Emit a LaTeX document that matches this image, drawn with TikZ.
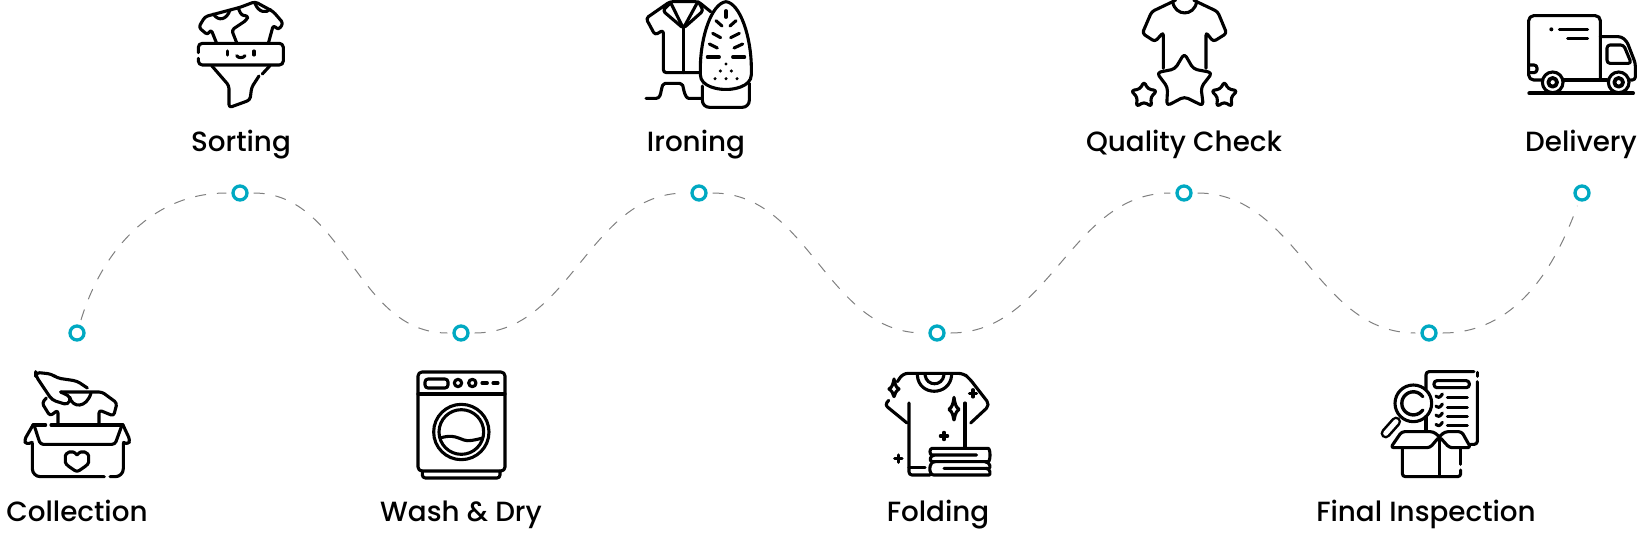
\documentclass[tikz,border=0pt]{standalone}
\usepackage{fontspec}
\setmainfont{Poppins Medium}
\definecolor{dotteal}{HTML}{00A9C2}
\definecolor{routegray}{HTML}{808080}
\tikzset{
  stepdot/.style={circle,draw=dotteal,fill=white,line width=3.3pt,minimum size=14pt,inner sep=0pt},
  steptext/.style={anchor=base,inner sep=0pt,font=\fontsize{27.8}{28}\selectfont},
  routeline/.style={draw=routegray,line width=1pt,dash pattern=on 11pt off 11pt,shorten >=5pt,shorten <=5pt},
  iconline/.style={line width=3.1pt,line cap=round,line join=round,rounded corners=3pt},
}
\begin{document}
\begin{tikzpicture}[x=1pt,y=-1pt]
\useasboundingbox (0,0) rectangle (1646,555);

% Dots on the route
\foreach \tag/\x/\y in {a/77/333,b/240/193,c/461/333,d/699/193,e/937/333,f/1184/193,g/1429/333,h/1582/193}
{
    \node[stepdot] (dot\tag) at (\x,\y) {};
}

% Route
\draw[routeline] (dota) to[out=73,in=180] (dotb);
\draw[routeline] (dotb) to[out=0,in=180] (dotc);
\draw[routeline] (dotc) to[out=0,in=180] (dotd);
\draw[routeline] (dotd) to[out=0,in=180] (dote);
\draw[routeline] (dote) to[out=0,in=180] (dotf);
\draw[routeline] (dotf) to[out=0,in=180] (dotg);
\draw[routeline] (dotg) to[out=0,in=250] (doth);

% Labels
\foreach \tag/\name/\x/\y in {a/Collection/77/521,b/Sorting/241/151,c/Wash \& Dry/461/521,d/Ironing/696/151,e/Folding/938/521,f/Quality Check/1184/151,g/Final Inspection/1426/521,h/Delivery/1581/151}
{
    \node[steptext] (text\tag) at (\x,\y) {\name};
}

% Collection
\begin{scope}[shift={(15,365)},scale=1/3,iconline]
\draw[rounded corners=8pt] (52,235) -- (52,335) -- (268,335);
\draw[rounded corners=8pt] (285,335) -- (325,335) -- (325,235);
\draw (54,180) -- (92,180);
\draw (108,180) -- (324,180);
\draw (58,183) -- (76,238) -- (300,238) -- (320,183);
\draw (54,180) -- (28,225) -- (33,238) -- (52,232);
\draw (324,180) -- (345,225) -- (340,238) -- (325,232);
\draw (186,270) .. controls (171,250) and (151,265) .. (151,282) .. controls (151,300) and (171,310) .. (186,322) .. controls (201,310) and (221,300) .. (221,282) .. controls (221,265) and (201,250) .. (186,270);
\draw (129,178) -- (129,135) -- (105,153) -- (81,114) -- (94,99);
\draw (252,178) -- (252,135) -- (296,153) -- (306,114) -- (261,81) -- (137,81);
\draw (164,96) .. controls (172,130) and (215,130) .. (228,84);
\draw[rounded corners=4pt] (217,69) -- (186,48) -- (126,39) -- (110,27) -- (62,22) -- (62,32) -- (111,105) -- (159,120) -- (168,96) -- (137,81);
\end{scope}

% Sorting
\begin{scope}[shift={(185,0)},scale=1/3,iconline]
\draw[rounded corners=4pt] (40,158) -- (40,130) -- (295,130) -- (295,195) -- (40,195) -- (40,175);
\draw (127,153) -- (127,165);
\draw (207,153) -- (207,165);
\draw (155,167) .. controls (160,175) and (175,175) .. (180,167);
\draw (80,197) -- (132,257) -- (132,323) -- (195,300) -- (200,262) -- (222,228);
\draw (232,222) -- (255,197);
\draw (95,130) -- (78,88) -- (68,105) -- (41,82) -- (60,50) -- (165,22) -- (210,5) -- (265,35) -- (295,70) -- (280,90) -- (265,75) -- (250,130);
\draw (85,42) .. controls (100,65) and (125,60) .. (135,30);
\draw (210,10) .. controls (220,38) and (245,40) .. (255,28);
\draw (160,25) -- (170,47) -- (190,47) -- (185,60) -- (140,90) -- (155,128);
\end{scope}

% Wash & Dry
\begin{scope}[shift={(400,365)},scale=1/3,iconline]
\draw[rounded corners=4pt] (54,21) rectangle (315,318);
\draw (54,87) -- (315,87);
\draw (67,318) -- (67,339) -- (300,339) -- (300,318);
\draw (75,42) rectangle (144,69);
\draw (174,54) circle[radius=11];
\draw (217,54) circle[radius=11];
\draw (246,54) -- (262,54);
\draw (279,54) -- (294,54);
\draw (184,201) circle[radius=83];
\draw (184,201) circle[radius=67];
\draw (120,219) .. controls (150,210) and (165,215) .. (184,222) .. controls (205,230) and (225,225) .. (248,219);
\end{scope}

% Ironing
\begin{scope}[shift={(640,0)},scale=1/3,iconline]
\draw (258,5) .. controls (215,10) and (181,110) .. (181,215) .. controls (181,262) and (240,268) .. (258,268) .. controls (275,268) and (334,262) .. (334,215) .. controls (334,110) and (300,10) .. (258,5);
\draw[rounded corners=7pt] (187,258) -- (187,322) -- (328,322) -- (328,250);
\draw (258,32) -- (258,52);
\draw (228,62) -- (246,78);
\draw (288,62) -- (270,78);
\draw (218,100) -- (242,113);
\draw (298,100) -- (272,113);
\draw (208,132) -- (232,144);
\draw (308,132) -- (282,144);
\draw (202,171) -- (238,171);
\draw (278,171) -- (314,171);
\foreach \px/\py in {258/192,241/213,274/213,225/236,258/236,291/236}
{
    \fill (\px,\py) circle[radius=5];
}
\draw (180,218) -- (70,218) -- (70,90) -- (45,105) -- (18,55) -- (90,5) -- (175,5) -- (212,35);
\draw (92,8) -- (68,32) -- (130,85) -- (190,32) -- (175,5);
\draw (92,8) -- (130,85) -- (172,8);
\draw (130,85) -- (130,218);
\draw (18,295) -- (40,295) .. controls (60,295) and (62,280) .. (65,265) .. controls (68,255) and (75,250) .. (85,250) -- (110,250) .. controls (120,250) and (128,255) .. (130,265) .. controls (135,285) and (140,295) .. (155,295) -- (185,295);
\end{scope}

% Folding
\begin{scope}[shift={(880,365)},scale=1/3,iconline]
\draw[rounded corners=5pt] (52,50) -- (69,25) -- (250,25) -- (268,40) -- (330,120) -- (272,174);
\draw (26,106) -- (15,120) -- (81,174);
\draw (87,114) -- (87,330) -- (150,330);
\draw (87,308) -- (135,308);
\draw (255,114) -- (255,245);
\draw (112,30) .. controls (115,95) and (210,95) .. (215,30);
\draw (135,30) .. controls (140,65) and (187,65) .. (192,30);
\draw (222,97) .. controls (225,120) and (230,128) .. (242,133) .. controls (230,138) and (225,148) .. (222,170) .. controls (219,148) and (214,138) .. (202,133) .. controls (214,128) and (219,120) .. (222,97);
\draw (42,42) .. controls (45,60) and (50,68) .. (62,72) .. controls (50,76) and (45,84) .. (42,100) .. controls (39,84) and (34,76) .. (22,72) .. controls (34,68) and (39,60) .. (42,42);
\foreach \px/\py in {279/85,192/213,55/281}
{
    \draw (\px-11,\py) -- (\px+11,\py);
    \draw (\px,\py-11) -- (\px,\py+11);
}
\draw (290,270) -- (165,270) .. controls (148,270) and (148,250) .. (165,250) -- (315,250) .. controls (332,250) and (332,290) .. (315,290) -- (165,290) .. controls (148,290) and (148,270) .. (165,270);
\draw (315,290) .. controls (332,292) and (332,310) .. (318,310) -- (192,310);
\draw (165,290) .. controls (145,290) and (145,330) .. (170,330) -- (318,330) .. controls (332,330) and (332,310) .. (318,310);
\end{scope}

% Quality Check
\begin{scope}[shift={(1125,0)},scale=1/3,iconline]
\draw (115,205) -- (115,97) -- (90,125) -- (52,100) -- (80,35) -- (143,5);
\draw (243,205) -- (243,97) -- (265,125) -- (305,100) -- (278,35) -- (215,5);
\draw (143,5) .. controls (150,50) and (208,50) .. (215,5);
\draw (143,5) -- (152,0);
\draw (215,5) -- (206,0);
\draw[rounded corners=4pt] (178,160) -- (205,207) -- (262,218) -- (228,262) -- (235,318) -- (178,290) -- (125,318) -- (128,262) -- (95,218) -- (150,207) -- cycle;
\foreach \dx in {0,241}
{
    \draw[xshift=\dx*1pt,rounded corners=3pt] (57,245) -- (69,267) -- (96,272) -- (77,292) -- (80,320) -- (57,306) -- (34,320) -- (37,292) -- (18,272) -- (45,267) -- cycle;
}
\end{scope}

% Final Inspection
\begin{scope}[shift={(1370,365)},scale=1/3,iconline]
\draw (168,72) -- (168,20) -- (312,20);
\draw (322,22) -- (322,34);
\draw (322,50) -- (322,238) -- (302,238);
\draw (168,155) -- (168,195);
\draw (192,47) rectangle (298,68);
\foreach \py in {95,125,152,180}
{
    \draw (198,\py-2) -- (207,\py+6) -- (217,\py-8);
    \draw (232,\py+2) -- (292,\py+2);
}
\draw (130,115) circle[radius=55];
\draw plot[smooth,domain=40:320,samples=30] ({130+34*cos(\x)},{115+34*sin(\x)});
\draw[double=white,double distance=5pt,line width=2.6pt] (78,170) -- (47,205);
\draw (208,215) -- (190,200) -- (95,200) -- (62,248) -- (180,248) -- (208,215) -- (238,248) -- (302,248) -- (275,200) -- (225,200) -- (208,215);
\draw (208,215) -- (208,335);
\draw (97,250) -- (97,335) -- (272,335) -- (272,315);
\draw (272,298) -- (272,250);
\end{scope}

% Delivery
\begin{scope}[shift={(1522,0)},scale=1/3,iconline]
\draw[rounded corners=5pt] (60,240) -- (20,240) -- (20,47) -- (235,47) -- (235,240);
\draw (125,240) -- (255,240);
\draw (20,195) -- (45,195) -- (45,218) -- (20,218);
\draw (235,110) -- (298,110) -- (315,125) -- (340,190) -- (340,240) -- (325,240);
\draw (255,135) -- (305,135) -- (328,190) -- (255,190) -- cycle;
\foreach \px in {92,290}
{
    \draw[fill=white] (\px,247) circle[radius=31];
    \draw[fill=white,line width=3.8pt] (\px,247) circle[radius=13];
}
\draw[line width=4pt] (22,280) -- (333,280);
\fill (88,88) circle[radius=6];
\draw (112,88) -- (197,88);
\draw (137,115) -- (197,115);
\end{scope}

\end{tikzpicture}
\end{document}
